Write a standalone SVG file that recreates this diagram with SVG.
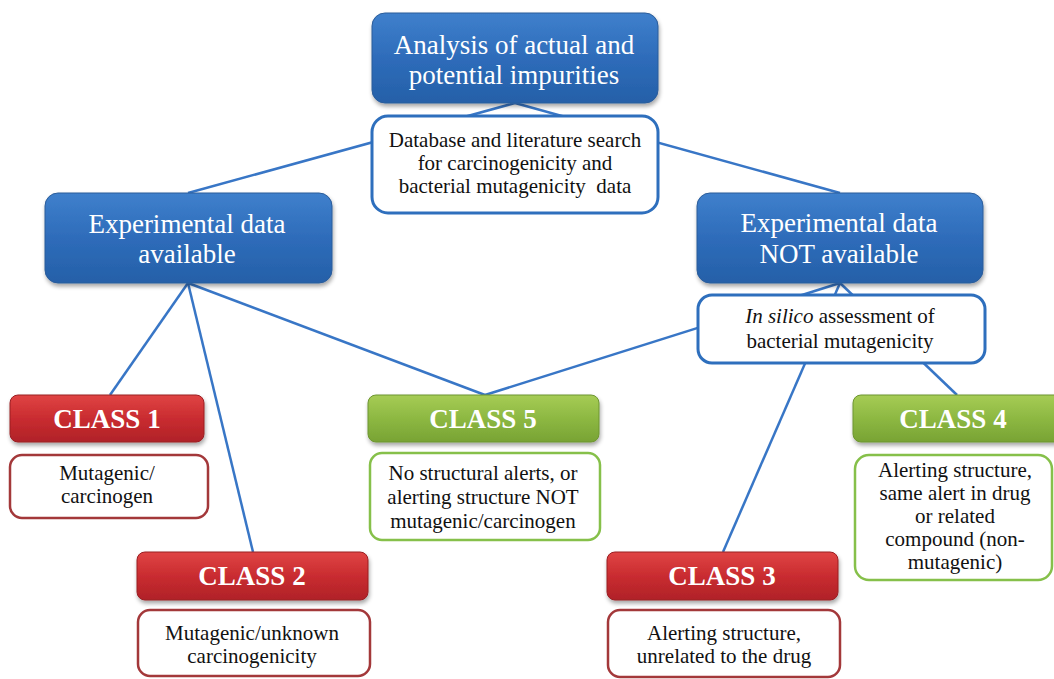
<svg xmlns="http://www.w3.org/2000/svg" width="1054" height="679" viewBox="0 0 1054 679">
<defs>
<linearGradient id="gBlue" x1="0" y1="0" x2="0" y2="1"><stop offset="0" stop-color="#3f80cc"/><stop offset="0.5" stop-color="#2e6cba"/><stop offset="1" stop-color="#2560a8"/></linearGradient>
<linearGradient id="gRed" x1="0" y1="0" x2="0" y2="1"><stop offset="0" stop-color="#e04444"/><stop offset="0.5" stop-color="#c92c30"/><stop offset="1" stop-color="#b02228"/></linearGradient>
<linearGradient id="gGreen" x1="0" y1="0" x2="0" y2="1"><stop offset="0" stop-color="#a6cc55"/><stop offset="0.5" stop-color="#8db842"/><stop offset="1" stop-color="#78a334"/></linearGradient>
<filter id="sh" x="-10%" y="-10%" width="120%" height="130%"><feGaussianBlur in="SourceAlpha" stdDeviation="2"/><feOffset dx="1" dy="3"/><feComponentTransfer><feFuncA type="linear" slope="0.35"/></feComponentTransfer><feMerge><feMergeNode/><feMergeNode in="SourceGraphic"/></feMerge></filter>
</defs>
<style>
.blue{fill:url(#gBlue);stroke:#2a5c9a;stroke-width:1;filter:url(#sh)}
.red{fill:url(#gRed);stroke:#9a1e22;stroke-width:1;filter:url(#sh)}
.green{fill:url(#gGreen);stroke:#6d9530;stroke-width:1;filter:url(#sh)}
.dB{fill:#fff;stroke:#2e6fbd;stroke-width:3}
.dR{fill:#fff;stroke:#a3383a;stroke-width:2.5}
.dG{fill:#fff;stroke:#86c04a;stroke-width:2.5}
text{font-family:'Liberation Serif','Times New Roman',serif}
.ht{font-size:27px;fill:#fff;text-anchor:middle}
.ct{font-size:27px;font-weight:bold;fill:#fff;text-anchor:middle}
.dt{font-size:21px;fill:#111;text-anchor:middle}
.ln{stroke:#3876c6;stroke-width:2.5;fill:none}
</style>
<g id="connectors">
<line class="ln" x1="515" y1="103" x2="188" y2="193"/>
<line class="ln" x1="515" y1="103" x2="840" y2="193"/>
<line class="ln" x1="188" y1="283" x2="110" y2="395"/>
<line class="ln" x1="188" y1="283" x2="253" y2="552"/>
<line class="ln" x1="188" y1="283" x2="485" y2="395"/>
<line class="ln" x1="840" y1="283" x2="485" y2="395"/>
<line class="ln" x1="840" y1="283" x2="723" y2="552"/>
<line class="ln" x1="840" y1="283" x2="957" y2="395"/>
</g>
<g id="top">
<rect class="blue" x="372" y="13" width="286" height="90" rx="13"/>
<text class="ht" x="514" y="54">Analysis of actual and</text>
<text class="ht" x="514" y="84">potential impurities</text>
</g>
<g id="database">
<rect class="dB" x="372" y="116" width="286" height="97" rx="16"/>
<text class="dt" x="515" y="147" font-size="21.5">Database and literature search</text>
<text class="dt" x="515" y="170" font-size="21.5">for carcinogenicity and</text>
<text class="dt" x="515" y="193" font-size="21.5" xml:space="preserve">bacterial mutagenicity  data</text>
</g>
<g id="exp-available">
<rect class="blue" x="45" y="193" width="287" height="90" rx="13"/>
<text class="ht" x="187" y="233">Experimental data</text>
<text class="ht" x="187" y="263">available</text>
</g>
<g id="exp-not-available">
<rect class="blue" x="697" y="193" width="286" height="90" rx="13"/>
<text class="ht" x="839" y="232">Experimental data</text>
<text class="ht" x="839" y="263">NOT available</text>
</g>
<g id="insilico">
<rect class="dB" x="698" y="295" width="287" height="68" rx="14"/>
<text class="dt" x="840" y="323" font-size="21.5"><tspan font-style="italic">In silico</tspan> assessment  of</text>
<text class="dt" x="840" y="348" font-size="21.5">bacterial mutagenicity</text>
</g>
<g id="class1">
<rect class="red" x="10" y="395" width="194" height="47" rx="8"/>
<text class="ct" x="107" y="428">CLASS 1</text>
<rect class="dR" x="10" y="455" width="198" height="63" rx="12"/>
<text class="dt" x="107" y="480" font-size="20">Mutagenic/</text>
<text class="dt" x="107" y="503" font-size="20">carcinogen</text>
</g>
<g id="class2">
<rect class="red" x="137" y="552" width="231" height="48" rx="8"/>
<text class="ct" x="252" y="585">CLASS 2</text>
<rect class="dR" x="138" y="610" width="232" height="66" rx="12"/>
<text class="dt" x="252" y="640" font-size="20">Mutagenic/unknown</text>
<text class="dt" x="252" y="663" font-size="20">carcinogenicity</text>
</g>
<g id="class5">
<rect class="green" x="368" y="395" width="231" height="47" rx="8"/>
<text class="ct" x="483" y="428">CLASS 5</text>
<rect class="dG" x="370" y="453" width="230" height="87" rx="12"/>
<text class="dt" x="483" y="480">No structural alerts, or</text>
<text class="dt" x="483" y="504">alerting structure NOT</text>
<text class="dt" x="483" y="528">mutagenic/carcinogen</text>
</g>
<g id="class3">
<rect class="red" x="607" y="552" width="231" height="48" rx="8"/>
<text class="ct" x="722" y="585">CLASS 3</text>
<rect class="dR" x="608" y="610" width="232" height="67" rx="12"/>
<text class="dt" x="724" y="640">Alerting structure,</text>
<text class="dt" x="724" y="663">unrelated to the drug</text>
</g>
<g id="class4">
<rect class="green" x="853" y="395" width="210" height="47" rx="8"/>
<text class="ct" x="953" y="428">CLASS 4</text>
<rect class="dG" x="855" y="455" width="197" height="125" rx="14"/>
<text class="dt" x="955" y="477">Alerting structure,</text>
<text class="dt" x="955" y="500">same alert in drug</text>
<text class="dt" x="955" y="523">or related</text>
<text class="dt" x="955" y="546">compound (non-</text>
<text class="dt" x="955" y="569">mutagenic)</text>
</g>
</svg>
